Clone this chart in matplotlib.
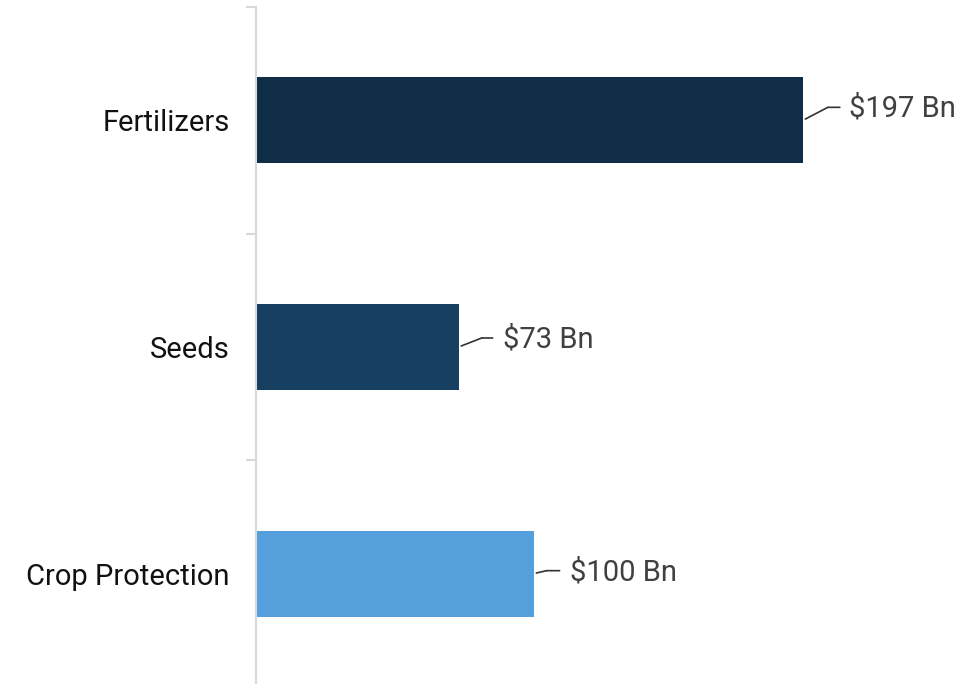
import matplotlib.pyplot as plt
import matplotlib.transforms as mtransforms

plt.rcParams['font.family'] = ['Roboto', 'DejaVu Sans']

categories = ['Fertilizers', 'Seeds', 'Crop Protection']
values = [197, 73, 100]
labels = ['$197 Bn', '$73 Bn', '$100 Bn']
colors = ['#0f2d47', '#163f62', '#559fdc']

# leader line elbow / end and label offsets in pixels (style only)
elbow = [(25, 13), (23, 9), (13, 3)]
leg_len = [12, 11, 13]
text_off = [(46, 12), (44, 7), (36, 1)]

fig = plt.figure(figsize=(9.78, 6.84), dpi=100)
W, H = 978, 684
ax = fig.add_axes([256 / W, (H - 687) / H, 694 / W, 680 / H])

y = list(range(len(categories)))
ax.barh(y, values, height=0.38, color=colors)
ax.set_xlim(0, 250)
ax.set_ylim(2.5, -0.5)

for s in ['top', 'right', 'bottom']:
    ax.spines[s].set_visible(False)
ax.spines['left'].set_color('#d9d9d9')
ax.spines['left'].set_linewidth(1.5)
ax.set_xticks([])
ax.set_yticks(y)
ax.set_yticklabels(categories, fontsize=21, color='#111111')
ax.tick_params(axis='y', which='major', length=0, pad=19)
ax.set_yticks([-0.5, 0.5, 1.5, 2.5], minor=True)
ax.tick_params(axis='y', which='minor', length=7, width=1.5, color='#d9d9d9')

for i, (v, lab) in enumerate(zip(values, labels)):
    ex, ey = elbow[i]
    ax.annotate('', xy=(v, i), xytext=(ex, ey), textcoords='offset pixels',
                arrowprops=dict(arrowstyle='-', color='#333333', lw=1.2,
                                shrinkA=0, shrinkB=2))
    tr = mtransforms.offset_copy(ax.transData, fig=fig, x=ex, y=ey, units='dots')
    ax.annotate('', xy=(v, i), xycoords=tr, xytext=(leg_len[i], 0),
                textcoords='offset pixels',
                arrowprops=dict(arrowstyle='-', color='#333333', lw=1.2,
                                shrinkA=0, shrinkB=0))
    ax.annotate(lab, xy=(v, i), xytext=text_off[i], textcoords='offset pixels',
                va='center', ha='left', fontsize=21, color='#404040')

fig.savefig('out.png', dpi=100)
